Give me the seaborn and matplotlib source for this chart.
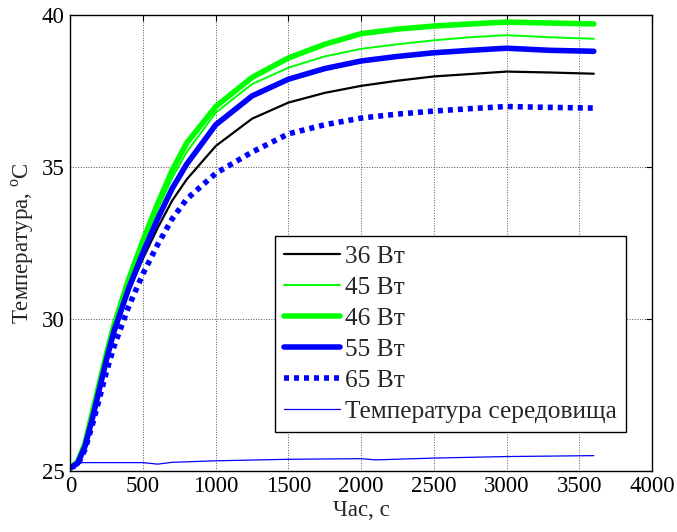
import matplotlib
matplotlib.use("Agg")
import matplotlib.pyplot as plt
from matplotlib import font_manager
import seaborn as sns
import pandas as pd

# ---- data ----
t_s = [0, 50, 100, 150, 200, 250, 300, 400, 500, 600, 700, 800, 1000, 1250,
       1500, 1750, 2000, 2250, 2500, 2750, 3000, 3300, 3600]
p36 = [25.1, 25.25, 25.8, 26.7, 27.6, 28.55, 29.45, 30.9, 32.0, 33.0, 33.9, 34.6,
       35.7, 36.6, 37.13, 37.45, 37.68, 37.85, 37.99, 38.07, 38.15, 38.12, 38.08]
p45 = [25.1, 25.3, 25.9, 26.9, 27.9, 28.85, 29.75, 31.2, 32.45, 33.6, 34.65, 35.5,
       36.8, 37.74, 38.28, 38.65, 38.9, 39.05, 39.18, 39.28, 39.35, 39.28, 39.23]
p46 = [25.1, 25.3, 25.9, 26.9, 27.9, 28.9, 29.8, 31.3, 32.6, 33.8, 34.9, 35.8,
       37.0, 37.96, 38.6, 39.05, 39.4, 39.55, 39.65, 39.72, 39.78, 39.75, 39.72]
p55 = [25.1, 25.25, 25.8, 26.7, 27.7, 28.7, 29.6, 31.0, 32.2, 33.3, 34.3, 35.1,
       36.4, 37.35, 37.9, 38.25, 38.5, 38.65, 38.77, 38.85, 38.92, 38.85, 38.82]
p65 = [25.1, 25.2, 25.7, 26.5, 27.4, 28.3, 29.1, 30.4, 31.5, 32.45, 33.3, 33.95,
       34.8, 35.5, 36.1, 36.4, 36.62, 36.75, 36.85, 36.93, 37.0, 36.97, 36.95]
t_amb = [0, 40, 60, 500, 600, 700, 1000, 1500, 2000, 2100, 2500, 3000, 3600]
amb = [25.1, 25.15, 25.27, 25.27, 25.22, 25.28, 25.33, 25.38, 25.4, 25.36, 25.42,
       25.47, 25.5]

labels = ["36 Вт", "45 Вт", "46 Вт", "55 Вт", "65 Вт", "Температура середовища"]
x_ticks = [0, 500, 1000, 1500, 2000, 2500, 3000, 3500, 4000]
y_ticks = [25, 30, 35, 40]

# ---- fonts: find a Times-like serif ----
serif_name = None
for f in font_manager.findSystemFonts():
    base = f.split("/")[-1].lower()
    if base.startswith("liberationserif-regular"):
        try:
            font_manager.fontManager.addfont(f)
            serif_name = font_manager.FontProperties(fname=f).get_name()
        except Exception:
            pass
        break
if serif_name is None:
    serif_name = "DejaVu Serif"

sns.set_style("white")
plt.rcParams["font.family"] = [serif_name, "DejaVu Serif"]
plt.rcParams["mathtext.fontset"] = "custom"
plt.rcParams["mathtext.rm"] = serif_name

fig = plt.figure(figsize=(6.77, 5.32), dpi=100)
ax = fig.add_axes([0.104, 0.115, 0.859, 0.856])

series = [
    (t_s, p36, labels[0], "black", 1.6, "-"),
    (t_s, p45, labels[1], "#00ff00", 1.4, "-"),
    (t_s, p46, labels[2], "#00ff00", 4.0, "-"),
    (t_s, p55, labels[3], "#0000ff", 4.0, "-"),
    (t_s, p65, labels[4], "#0000ff", 4.0, (0, (0.9, 0.9))),
    (t_amb, amb, labels[5], "#0000ff", 0.9, "-"),
]
for tx, ty, lab, col, lw, ls in series:
    df = pd.DataFrame({"t": tx, "T": ty})
    sns.lineplot(data=df, x="t", y="T", ax=ax, color=col, linewidth=lw,
                 linestyle=ls, label=lab, estimator=None, sort=False)

ax.set_xlim(0, 4000)
ax.set_ylim(25, 40)
ax.set_xticks(x_ticks)
ax.set_yticks(y_ticks)
ax.tick_params(direction="in", length=4, width=0.8, top=True, right=True,
               labelsize=16.5, pad=4, colors="black")
for s in ax.spines.values():
    s.set_color("black")
    s.set_linewidth(1.0)
ax.grid(True, linestyle=":", color="#555555", linewidth=0.7)
ax.set_xlabel("Час, с", fontsize=16.5, labelpad=2)
ax.set_ylabel("Температура, $^{\\rm o}$C", fontsize=16.5, labelpad=4)

leg = ax.legend(loc="lower right", bbox_to_anchor=(0.955, 0.086), fontsize=18.3,
                frameon=True, fancybox=False, edgecolor="black", framealpha=1,
                handlelength=2.2, handletextpad=0.22, labelspacing=0.32,
                borderpad=0.35, borderaxespad=0)
leg.get_frame().set_linewidth(1.0)

fig.savefig("out.png", dpi=100)
